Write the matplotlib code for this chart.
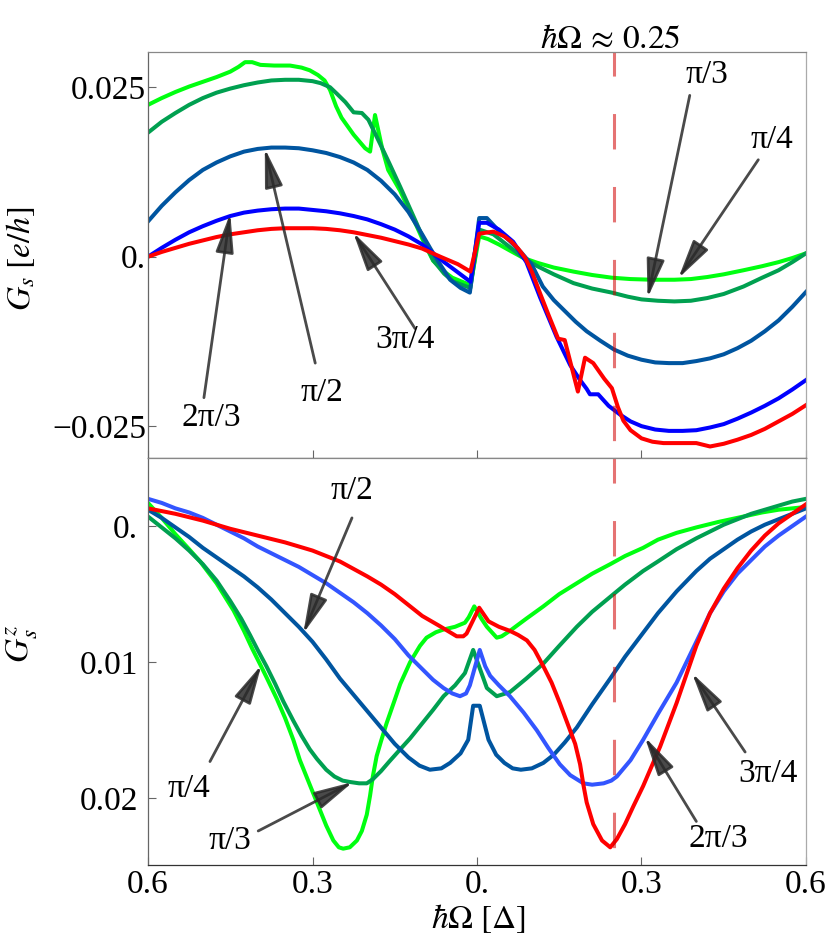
import matplotlib
matplotlib.use("Agg")
import matplotlib.pyplot as plt
from matplotlib.ticker import FixedLocator, FixedFormatter

plt.rcParams["font.family"] = ["Liberation Serif", "DejaVu Serif"]
plt.rcParams["mathtext.fontset"] = "stix"

# ------------------------------------------------------------------
# data (x = hbar*Omega in units of Delta)

# top panel: G_s [e/h]
top_pi4_x = [-0.6, -0.575, -0.55, -0.525, -0.5, -0.475, -0.45, -0.435, -0.423, -0.41, -0.395, -0.37,
             -0.341, -0.32, -0.305, -0.29, -0.278, -0.268, -0.257, -0.247, -0.225, -0.204, -0.195,
             -0.186, -0.173, -0.162, -0.14, -0.125, -0.11, -0.095, -0.08, -0.06, -0.045, -0.012,
             0.004, 0.02, 0.04, 0.06, 0.085, 0.11, 0.14, 0.176, 0.21, 0.246, 0.28, 0.32, 0.36, 0.39,
             0.42, 0.45, 0.486, 0.52, 0.55, 0.575, 0.6]
top_pi4_y = [0.0224, 0.0234, 0.0243, 0.0251, 0.0258, 0.0265, 0.0273, 0.0280, 0.0287, 0.0287, 0.0283, 0.0282,
             0.0282, 0.0279, 0.0275, 0.0268, 0.0260, 0.0246, 0.0222, 0.0205, 0.0180, 0.0160, 0.0155,
             0.0209, 0.0160, 0.0128, 0.0097, 0.0071, 0.0045, 0.0018, -0.0006, -0.0022, -0.0031, -0.0042,
             0.0030, 0.0026, 0.0018, 0.0009, -0.0002, -0.0009, -0.0016, -0.0022, -0.0027, -0.0031, -0.0033, -0.0034, -0.0034, -0.0033,
             -0.0030, -0.0026, -0.0020, -0.0014, -0.0008, -0.0002, 0.0005]

top_pi3_x = [-0.6, -0.575, -0.55, -0.525, -0.5, -0.475, -0.45, -0.425, -0.4, -0.375, -0.35, -0.325,
             -0.3, -0.285, -0.268, -0.255, -0.24, -0.225, -0.21, -0.198, -0.177, -0.16, -0.14, -0.125,
             -0.11, -0.095, -0.08, -0.06, -0.043, -0.012, 0.004, 0.03, 0.06, 0.085, 0.11, 0.14, 0.176,
             0.21, 0.246, 0.275, 0.3, 0.33, 0.36, 0.39, 0.42, 0.45, 0.486, 0.52, 0.55, 0.575, 0.6]
top_pi3_y = [0.0183, 0.0199, 0.0212, 0.0224, 0.0234, 0.0242, 0.0248, 0.0253, 0.0257, 0.0260, 0.0261, 0.0261,
             0.0259, 0.0256, 0.0250, 0.0240, 0.0228, 0.0213, 0.0212, 0.0202, 0.0167, 0.0138, 0.0103, 0.0076,
             0.0049, 0.0021, -0.0005, -0.0025, -0.0037, -0.0046, 0.0040, 0.0033, 0.0014, -0.0002, -0.0014, -0.0026, -0.0039,
             -0.0047, -0.0053, -0.0059, -0.0063, -0.0065, -0.0066, -0.0065, -0.0061, -0.0055, -0.0044, -0.0031, -0.0020, -0.0008, 0.0005]

top_pi2_x = [-0.6, -0.575, -0.55, -0.525, -0.5, -0.475, -0.45, -0.425, -0.4, -0.375, -0.35, -0.325,
             -0.3, -0.275, -0.25, -0.225, -0.2, -0.175, -0.15, -0.125, -0.1, -0.085, -0.07, -0.049,
             -0.03, -0.013, 0.004, 0.018, 0.04, 0.06, 0.08, 0.1, 0.12, 0.14, 0.16, 0.18, 0.2, 0.225,
             0.25, 0.275, 0.3, 0.325, 0.35, 0.375, 0.4, 0.425, 0.45, 0.475, 0.5, 0.525, 0.55, 0.575, 0.6]
top_pi2_y = [0.0052, 0.0075, 0.0095, 0.0113, 0.0128, 0.0139, 0.0148, 0.0155, 0.0159, 0.0161, 0.0161, 0.0160,
             0.0157, 0.0153, 0.0147, 0.0139, 0.0128, 0.0112, 0.0092, 0.0066, 0.0033, 0.0012, -0.0008, -0.0034,
             -0.0046, -0.0053, 0.0057, 0.0057, 0.0038, 0.0023, 0.0007, -0.0012, -0.0044, -0.0064, -0.0080, -0.0096, -0.0110, -0.0124,
             -0.0137, -0.0146, -0.0152, -0.0156, -0.0157, -0.0157, -0.0154, -0.0150, -0.0144, -0.0135, -0.0124, -0.0110, -0.0094, -0.0074, -0.0052]

top_2pi3_x = [-0.6, -0.575, -0.55, -0.525, -0.5, -0.475, -0.45, -0.425, -0.4, -0.375, -0.35, -0.325,
              -0.3, -0.275, -0.25, -0.225, -0.2, -0.175, -0.15, -0.125, -0.1, -0.08, -0.06, -0.04,
              -0.012, 0.004, 0.018, 0.04, 0.066, 0.09, 0.115, 0.145, 0.17, 0.188, 0.2, 0.206, 0.221,
              0.24, 0.261, 0.28, 0.3, 0.325, 0.35, 0.375, 0.4, 0.425, 0.45, 0.475, 0.5, 0.525, 0.55,
              0.575, 0.6]
top_2pi3_y = [0.0, 0.0013, 0.0025, 0.0036, 0.0045, 0.0053, 0.0060, 0.0065, 0.0068, 0.0070, 0.0071, 0.0071,
              0.0069, 0.0067, 0.0064, 0.0060, 0.0055, 0.0048, 0.0040, 0.0030, 0.0018, 0.0005, -0.0008, -0.0020,
              -0.0037, 0.0050, 0.0050, 0.0040, 0.0022, -0.0008, -0.0060, -0.0118, -0.0160, -0.0182, -0.0195, -0.0203, -0.0203,
              -0.0220, -0.0233, -0.0243, -0.0250, -0.0255, -0.0257, -0.0257, -0.0256, -0.0252, -0.0247, -0.0239, -0.0230, -0.0220, -0.0209,
              -0.0196, -0.0182]

top_3pi4_x = [-0.6, -0.575, -0.55, -0.525, -0.5, -0.475, -0.45, -0.425, -0.4, -0.375, -0.35, -0.325,
              -0.3, -0.275, -0.25, -0.225, -0.2, -0.175, -0.15, -0.125, -0.1, -0.067, -0.035, -0.012,
              0.004, 0.03, 0.05, 0.063, 0.075, 0.088, 0.1, 0.115, 0.13, 0.148, 0.16, 0.184, 0.197, 0.212,
              0.232, 0.246, 0.257, 0.267, 0.28, 0.3, 0.32, 0.34, 0.36, 0.4, 0.425, 0.45, 0.475, 0.5,
              0.525, 0.55, 0.575, 0.6]
top_3pi4_y = [0.0, 0.0007, 0.0013, 0.0019, 0.0024, 0.0029, 0.0033, 0.0036, 0.0039, 0.0041, 0.0042, 0.0042,
              0.0042, 0.0041, 0.0039, 0.0036, 0.0032, 0.0028, 0.0023, 0.0018, 0.0012, 0.0, -0.0011, -0.0022,
              0.0034, 0.0037, 0.0030, 0.0022, 0.0012, -0.0002, -0.0022, -0.0054, -0.0085, -0.0121, -0.0123, -0.0199, -0.0149, -0.0157,
              -0.0180, -0.0194, -0.0222, -0.0242, -0.0256, -0.0268, -0.0273, -0.0275, -0.0275, -0.0275, -0.0280, -0.0276, -0.0270, -0.0263,
              -0.0254, -0.0243, -0.0232, -0.0219]

# bottom panel: G_s^z (axis runs downwards)
bot_pi4_x = [-0.6, -0.575, -0.55, -0.525, -0.505, -0.475, -0.444, -0.425, -0.41, -0.395, -0.384, -0.365,
             -0.35, -0.335, -0.323, -0.305, -0.29, -0.275, -0.262, -0.252, -0.244, -0.232, -0.219, -0.21,
             -0.201, -0.195, -0.19, -0.183, -0.175, -0.165, -0.152, -0.14, -0.122, -0.104, -0.092, -0.075,
             -0.061, -0.04, -0.022, -0.015, -0.005, 0.008, 0.018, 0.036, 0.045, 0.06, 0.09, 0.121, 0.15,
             0.182, 0.21, 0.243, 0.27, 0.303, 0.33, 0.364, 0.4, 0.44, 0.486, 0.52, 0.55, 0.575, 0.6]
bot_pi4_y = [-0.0017, -0.0006, 0.0006, 0.0017, 0.0026, 0.0042, 0.0062, 0.0077, 0.0090, 0.0102, 0.0111, 0.0127,
             0.0141, 0.0157, 0.0172, 0.0190, 0.0205, 0.0220, 0.0231, 0.0236, 0.0237, 0.0236, 0.0231, 0.0224,
             0.0212, 0.0198, 0.0184, 0.0169, 0.0158, 0.0145, 0.0130, 0.0116, 0.0100, 0.0088, 0.0082, 0.0078,
             0.0076, 0.0074, 0.0071, 0.0067, 0.0059, 0.0068, 0.0074, 0.0082, 0.0081, 0.0077, 0.0068, 0.0059, 0.0050,
             0.0042, 0.0035, 0.0028, 0.0022, 0.0016, 0.0010, 0.0005, 0.0001, -0.0003, -0.0007, -0.0010, -0.0012, -0.0013, -0.0014]

bot_pi3_x = [-0.6, -0.575, -0.55, -0.525, -0.5, -0.475, -0.45, -0.43, -0.414, -0.4, -0.384, -0.368,
             -0.353, -0.335, -0.32, -0.305, -0.292, -0.275, -0.26, -0.245, -0.232, -0.215, -0.201, -0.19,
             -0.175, -0.16, -0.14, -0.122, -0.104, -0.08, -0.061, -0.04, -0.022, -0.007, 0.018, 0.036,
             0.06, 0.09, 0.121, 0.15, 0.182, 0.21, 0.243, 0.27, 0.303, 0.33, 0.364, 0.4, 0.425, 0.45,
             0.475, 0.5, 0.525, 0.55, 0.575, 0.6]
bot_pi3_y = [-0.0007, 0.0001, 0.0009, 0.0018, 0.0028, 0.0040, 0.0055, 0.0068, 0.0080, 0.0091, 0.0103, 0.0116,
             0.0129, 0.0143, 0.0154, 0.0164, 0.0171, 0.0179, 0.0184, 0.0187, 0.0188, 0.0189, 0.0189, 0.0186,
             0.0180, 0.0173, 0.0164, 0.0156, 0.0147, 0.0135, 0.0125, 0.0117, 0.0108, 0.0091, 0.0119, 0.0125,
             0.0122, 0.0112, 0.0101, 0.0088, 0.0074, 0.0063, 0.0052, 0.0043, 0.0033, 0.0026, 0.0017, 0.0009, 0.0004, -0.0001,
             -0.0005, -0.0009, -0.0012, -0.0015, -0.0018, -0.0020]

bot_pi2_x = [-0.6, -0.575, -0.55, -0.525, -0.5, -0.475, -0.45, -0.425, -0.4, -0.375, -0.35, -0.325,
             -0.3, -0.275, -0.25, -0.225, -0.2, -0.175, -0.15, -0.125, -0.105, -0.086, -0.065, -0.049,
             -0.03, -0.016, -0.007, 0.005, 0.021, 0.035, 0.05, 0.065, 0.08, 0.1, 0.121, 0.14, 0.16, 0.182,
             0.21, 0.243, 0.27, 0.3, 0.33, 0.364, 0.4, 0.425, 0.45, 0.475, 0.5, 0.525, 0.55, 0.575, 0.6]
bot_pi2_y = [-0.0012, -0.0006, 0.0001, 0.0008, 0.0016, 0.0023, 0.0030, 0.0037, 0.0045, 0.0054, 0.0064, 0.0074,
             0.0085, 0.0098, 0.0112, 0.0124, 0.0136, 0.0148, 0.0160, 0.0170, 0.0176, 0.0179, 0.0178, 0.0174,
             0.0167, 0.0157, 0.0132, 0.0132, 0.0157, 0.0168, 0.0174, 0.0178, 0.0179, 0.0178, 0.0174, 0.0168, 0.0159, 0.0148,
             0.0131, 0.0112, 0.0096, 0.0080, 0.0064, 0.0048, 0.0033, 0.0024, 0.0017, 0.0010, 0.0004, -0.0001, -0.0005, -0.0009, -0.0013]

bot_2pi3_x = [-0.6, -0.575, -0.55, -0.525, -0.5, -0.475, -0.45, -0.425, -0.4, -0.375, -0.35, -0.325,
              -0.3, -0.275, -0.25, -0.225, -0.2, -0.175, -0.15, -0.125, -0.1, -0.08, -0.061, -0.045,
              -0.031, -0.02, -0.013, 0.005, 0.015, 0.024, 0.04, 0.06, 0.085, 0.109, 0.13, 0.151, 0.17,
              0.194, 0.21, 0.231, 0.245, 0.255, 0.28, 0.303, 0.33, 0.364, 0.4, 0.425, 0.45, 0.475, 0.5,
              0.525, 0.55, 0.575, 0.6]
bot_2pi3_y = [-0.0020, -0.0017, -0.0013, -0.0010, -0.0006, -0.0001, 0.0004, 0.0009, 0.0015, 0.0020, 0.0025, 0.0030,
              0.0036, 0.0042, 0.0049, 0.0056, 0.0064, 0.0073, 0.0083, 0.0095, 0.0105, 0.0113, 0.0119, 0.0123,
              0.0125, 0.0123, 0.0117, 0.0091, 0.0103, 0.0110, 0.0117, 0.0125, 0.0137, 0.0150, 0.0163, 0.0175, 0.0183,
              0.0189, 0.0190, 0.0189, 0.0187, 0.0184, 0.0172, 0.0157, 0.0138, 0.0115, 0.0085, 0.0064, 0.0048, 0.0035, 0.0025,
              0.0015, 0.0007, 0.0000, -0.0007]

bot_3pi4_x = [-0.6, -0.55, -0.5, -0.45, -0.4, -0.35, -0.3, -0.25, -0.2, -0.175, -0.15, -0.125,
              -0.1, -0.07, -0.037, -0.025, -0.019, 0.004, 0.021, 0.04, 0.06, 0.075, 0.091, 0.105, 0.121,
              0.136, 0.151, 0.165, 0.179, 0.188, 0.194, 0.2, 0.212, 0.228, 0.243, 0.255, 0.27, 0.285,
              0.303, 0.334, 0.364, 0.4, 0.425, 0.45, 0.475, 0.5, 0.525, 0.55, 0.575, 0.6]
bot_3pi4_y = [-0.0013, -0.0009, -0.0004, 0.0002, 0.0007, 0.0012, 0.0018, 0.0026, 0.0037, 0.0043, 0.0050, 0.0058,
              0.0066, 0.0073, 0.0081, 0.0081, 0.0079, 0.0060, 0.0070, 0.0074, 0.0077, 0.0080, 0.0084, 0.0091, 0.0103,
              0.0115, 0.0130, 0.0145, 0.0160, 0.0175, 0.0190, 0.0203, 0.0219, 0.0231, 0.0236, 0.0230, 0.0219, 0.0206,
              0.0191, 0.0162, 0.0130, 0.0088, 0.0064, 0.0046, 0.0031, 0.0018, 0.0007, -0.0002, -0.0009, -0.0016]

x_ticks = [-0.6, -0.3, 0.0, 0.3, 0.6]
x_tick_labels = ["0.6", "0.3", "0.", "0.3", "0.6"]
top_y_ticks = [0.025, 0.0, -0.025]
top_y_tick_labels = ["0.025", "0.", "\u22120.025"]
bot_y_ticks = [0.0, 0.01, 0.02]
bot_y_tick_labels = ["0.", "0.01", "0.02"]
omega_marker = 0.25

C_PI4 = "#00ff10"
C_PI3 = "#00a050"
C_PI2 = "#0055a0"
C_2PI3_TOP = "#0000ff"
C_2PI3_BOT = "#3355ff"
C_3PI4 = "#ff0000"

FS = 24
LW = 2.9

fig = plt.figure(figsize=(8.29, 9.36), dpi=100)
ax_top = fig.add_axes([148 / 829, 1 - 458 / 936, 658 / 829, 406 / 936])
ax_bot = fig.add_axes([148 / 829, 1 - 865 / 936, 658 / 829, 407 / 936])

ax_top.plot(top_pi4_x, top_pi4_y, color=C_PI4, lw=LW)
ax_top.plot(top_pi3_x, top_pi3_y, color=C_PI3, lw=LW)
ax_top.plot(top_pi2_x, top_pi2_y, color=C_PI2, lw=LW)
ax_top.plot(top_2pi3_x, top_2pi3_y, color=C_2PI3_TOP, lw=LW)
ax_top.plot(top_3pi4_x, top_3pi4_y, color=C_3PI4, lw=LW)

ax_bot.plot(bot_pi4_x, bot_pi4_y, color=C_PI4, lw=LW)
ax_bot.plot(bot_pi3_x, bot_pi3_y, color=C_PI3, lw=LW)
ax_bot.plot(bot_pi2_x, bot_pi2_y, color=C_PI2, lw=LW)
ax_bot.plot(bot_2pi3_x, bot_2pi3_y, color=C_2PI3_BOT, lw=LW)
ax_bot.plot(bot_3pi4_x, bot_3pi4_y, color=C_3PI4, lw=LW)

# dashed marker at hbar*Omega ~ 0.25 (dash lengths scale with lw)
dash_lw = 2.2
for ax in (ax_top, ax_bot):
    ax.axvline(omega_marker, color="#d00000", alpha=0.55, lw=dash_lw,
               ls=(40.0 / dash_lw, (25.5 / dash_lw, 27.0 / dash_lw)))

ax_top.set_xlim(-0.6, 0.6)
ax_bot.set_xlim(-0.6, 0.6)
ax_top.set_ylim(-0.0297, 0.0302)
ax_bot.set_ylim(0.0249, -0.0050)

for ax in (ax_top, ax_bot):
    ax.xaxis.set_major_locator(FixedLocator(x_ticks))
    ax.tick_params(direction="in", length=5.8, width=0.8, color="#666666",
                   top=False, right=False, labelsize=FS)
    ax.tick_params(axis="x", pad=3)
    ax.spines["left"].set_color("#666666")
    ax.spines["right"].set_color("#aaaaaa")
    ax.spines["top"].set_color("#888888")
    ax.spines["bottom"].set_color("#333333")
    for s in ax.spines.values():
        s.set_linewidth(0.9)

ax_top.xaxis.set_major_formatter(FixedFormatter([""] * len(x_ticks)))
ax_bot.xaxis.set_major_formatter(FixedFormatter(x_tick_labels))
ax_top.yaxis.set_major_locator(FixedLocator(top_y_ticks))
ax_top.yaxis.set_major_formatter(FixedFormatter(top_y_tick_labels))
ax_bot.yaxis.set_major_locator(FixedLocator(bot_y_ticks))
ax_bot.yaxis.set_major_formatter(FixedFormatter(bot_y_tick_labels))
ax_top.tick_params(axis="y", pad=1.5)
ax_bot.tick_params(axis="y", pad=7)

fig.text(21 / 829, 1 - 259 / 936, r"$G_s\ [e/h]$", rotation=90, ha="center", va="center", fontsize=FS)
fig.text(22 / 829, 1 - 644 / 936, r"$G_s^z$", rotation=90, ha="center", va="center", fontsize=FS)
fig.text(478 / 829, 1 - 928 / 936, r"$\hbar\Omega\ [\Delta]$", ha="center", va="baseline", fontsize=FS)
fig.text(610 / 829, 1 - 48 / 936, r"$\hbar\Omega\,\approx\,0.25$", ha="center", va="baseline", fontsize=FS)

arrow_props = dict(arrowstyle="-|>,head_length=1.0,head_width=0.23", color="#2a2a2a",
                   alpha=0.85, lw=2.0, shrinkA=0, shrinkB=0, mutation_scale=FS)

# (label, text pos, arrow start, arrow tip)
top_notes = [
    ("2π/3", (-0.485, -0.0238), (-0.498, -0.0208), (-0.45, 0.0064)),
    ("π/2", (-0.283, -0.0200), (-0.295, -0.0157), (-0.387, 0.0160)),
    ("3π/4", (-0.131, -0.0123), (-0.113, -0.0106), (-0.226, 0.0036)),
    ("π/3", (0.420, 0.0268), (0.388, 0.0238), (0.311, -0.0061)),
    ("π/4", (0.537, 0.0172), (0.513, 0.0143), (0.367, -0.0032)),
]
bot_notes = [
    ("π/2", (-0.228, -0.0026), (-0.228, -0.0006), (-0.317, 0.0079)),
    ("π/4", (-0.526, 0.0193), (-0.487, 0.0173), (-0.393, 0.0102)),
    ("π/3", (-0.450, 0.0231), (-0.399, 0.0224), (-0.226, 0.0188)),
    ("3π/4", (0.531, 0.0182), (0.489, 0.0166), (0.392, 0.0108)),
    ("2π/3", (0.440, 0.0230), (0.400, 0.0217), (0.306, 0.0155)),
]
for ax, notes in ((ax_top, top_notes), (ax_bot, bot_notes)):
    for label, txt, start, tip in notes:
        ax.annotate("", xy=tip, xytext=start, arrowprops=arrow_props)
        ax.text(txt[0], txt[1], label, ha="center", va="center", fontsize=FS)

fig.savefig("out.png", dpi=100)
